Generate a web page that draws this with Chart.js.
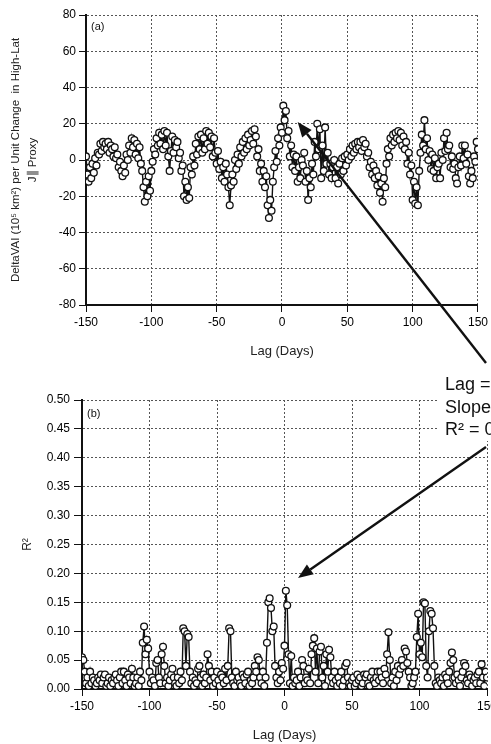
<!DOCTYPE html>
<html>
<head>
<meta charset="utf-8">
<script src="https://cdn.jsdelivr.net/npm/chart.js@4.4.1/dist/chart.umd.min.js"></script>
<style>
  html, body { margin: 0; padding: 0; background: #fff; width: 491px; height: 744px; overflow: hidden; position: relative; }
  #chartA { position: absolute; left: 0; top: 0; }
  #chartB { position: absolute; left: 0; top: 365px; }
</style>
</head>
<body>
<canvas id="chartA" width="491" height="365"></canvas>
<canvas id="chartB" width="505" height="379"></canvas>
<script>
// Lag runs from -150 to +150 days, one value per day
const LAG_START = -150;

// (a) DeltaVAI per unit change in high-lat J proxy
const deltaVAI = [
    2, -8, -12, -4, -10, -2, -7, 1, -3, 4,
    3, 9, 5, 10, 7, 9, 6, 10, 4, 8,
    6, 2, 7, 1, 3, -4, -1, -6, -9, -3,
    -7, 3, 0, 8, 4, 12, 7, 11, 3, 9,
    1, 7, -2, -6, -15, -23, -12, -20, -9, -17,
    -6, -1, 6, 3, 12, 8, 15, 9, 14, 6,
    16, 8, 15, 2, -6, 5, 13, 4, 11, 7,
    10, 1, 4, -6, -3, -20, -12, -22, -15, -21,
    -4, -8, 2, -3, 9, 3, 13, 6, 14, 4,
    12, 6, 16, 9, 15, 7, 13, 2, 12, 4,
    -2, 5, -5, -1, -10, -4, -12, -2, -8, -15,
    -25, -14, -8, -12, 0, -5, 3, -2, 7, 2,
    10, 4, 12, 6, 14, 8, 11, 16, 9, 17,
    13, 2, 6, -6, -2, -12, -6, -15, -9, -25,
    -32, -22, -28, -12, -4, 5, -1, 12, 8, 18,
    15, 30, 22, 27, 12, 16, 2, 8, -4, 3,
    -6, 2, -12, -4, -10, 0, -3, 4, -12, -6,
    -22, -10, -15, -2, -8, 10, 2, 20, 6, 17,
    -10, 8, -6, 18, -2, 4, -8, -2, -10, -4,
    0, -10, -4, -13, -2, -8, 1, -6, 2, -3,
    3, 0, 6, 2, 8, 4, 9, 6, 10, 7,
    10, 5, 11, 7, 9, 2, 4, -4, -1, -8,
    -3, -10, -6, -14, -9, -18, -13, -23, -10, -15,
    -2, 6, 2, 12, 8, 14, 10, 15, 12, 16,
    11, 15, 8, 13, 6, 10, -2, 4, -8, -3,
    -22, -12, -24, -15, -25, -6, 4, 14, 8, 22,
    6, 12, 0, 5, -5, 3, -6, 1, -10, -4,
    -2, -10, 4, 0, 12, 5, 15, 6, 8, -4,
    2, -5, -2, -10, -13, -4, 2, -3, 8, 1,
    8, -2, 3, -9, -13, -6, -10, 2, -1, 10,
    6
];

// (b) R^2 of the fit at each lag
const rSquared = [
    .055, .05, .03, .01, .02, .005, .03, .01, .02, .015,
    .005, .01, .02, .015, .025, .01, .02, .025, .005, .01,
    .02, .005, .015, .01, .02, .025, .015, .005, .02, .03,
    .01, .03, .015, .005, .025, .02, .01, .035, .02, .005,
    .01, .02, .005, .03, .015, .08, .108, .06, .085, .07,
    .03, .01, .02, .015, .005, .045, .05, .02, .01, .06,
    .073, .04, .01, .02, .005, .015, .025, .035, .02, .01,
    .005, .02, .01, .03, .015, .105, .1, .04, .095, .09,
    .03, .01, .02, .005, .015, .01, .035, .04, .02, .005,
    .025, .01, .02, .06, .04, .015, .03, .005, .02, .01,
    .03, .015, .005, .025, .02, .01, .035, .015, .04, .105,
    .1, .02, .01, .005, .03, .015, .02, .01, .005, .025,
    .02, .01, .025, .03, .005, .015, .01, .02, .04, .03,
    .055, .05, .02, .01, .03, .005, .02, .08, .15, .157,
    .14, .1, .108, .04, .02, .01, .03, .015, .045, .035,
    .075, .17, .145, .06, .01, .057, .005, .02, .01, .015,
    .03, .005, .02, .05, .04, .01, .02, .015, .035, .01,
    .06, .075, .088, .03, .07, .01, .065, .073, .02, .04,
    .005, .06, .03, .068, .055, .02, .01, .03, .015, .005,
    .02, .01, .03, .005, .015, .04, .045, .02, .01, .005,
    .015, .02, .005, .01, .025, .015, .02, .005, .01, .025,
    .02, .025, .01, .005, .02, .03, .015, .01, .02, .03,
    .015, .03, .02, .01, .035, .025, .06, .098, .05, .01,
    .02, .005, .03, .015, .04, .025, .035, .05, .04, .07,
    .065, .045, .03, .02, .005, .01, .02, .03, .09, .13,
    .06, .08, .055, .15, .148, .04, .02, .1, .135, .13,
    .105, .04, .01, .005, .02, .015, .01, .02, .005, .025,
    .02, .01, .03, .045, .063, .05, .02, .01, .025, .015,
    .005, .02, .03, .045, .04, .015, .01, .025, .02, .005,
    .015, .02, .01, .025, .03, .01, .043, .02, .005, .03,
    .02
];

const FONT = "'Liberation Sans', Arial, sans-serif";
const INK = '#111';

Chart.defaults.font.family = FONT;
Chart.defaults.color = INK;

function toPoints(values) {
    return values.map((v, i) => ({ x: LAG_START + i, y: v }));
}

function seriesDataset(values) {
    return {
        data: toPoints(values),
        borderColor: INK,
        borderWidth: 1.4,
        pointRadius: 3.4,
        pointBorderWidth: 1.3,
        pointBorderColor: INK,
        pointBackgroundColor: '#fff',
        tension: 0
    };
}

// arrow drawn from a fixed pixel tail to a point given in data units
function arrowPlugin(id, tail, head) {
    return {
        id: id,
        afterDatasetsDraw(chart) {
            const { ctx, scales: { x, y } } = chart;
            const hx = x.getPixelForValue(head[0]);
            const hy = y.getPixelForValue(head[1]);
            const ang = Math.atan2(hy - tail[1], hx - tail[0]);
            const len = 15, half = 6;
            const bx = hx - len * Math.cos(ang), by = hy - len * Math.sin(ang);
            ctx.save();
            ctx.strokeStyle = INK;
            ctx.fillStyle = INK;
            ctx.lineWidth = 2.4;
            ctx.beginPath();
            ctx.moveTo(tail[0], tail[1]);
            ctx.lineTo(bx, by);
            ctx.stroke();
            ctx.beginPath();
            ctx.moveTo(hx, hy);
            ctx.lineTo(bx + half * Math.sin(ang), by - half * Math.cos(ang));
            ctx.lineTo(bx - half * Math.sin(ang), by + half * Math.cos(ang));
            ctx.closePath();
            ctx.fill();
            ctx.restore();
        }
    };
}

function panelLabel(id, text, dy) {
    return {
        id: id,
        afterDraw(chart) {
            const { ctx, chartArea } = chart;
            ctx.save();
            ctx.font = '11px ' + FONT;
            ctx.fillStyle = INK;
            ctx.textBaseline = 'alphabetic';
            ctx.fillText(text, chartArea.left + 5, chartArea.top + dy);
            ctx.restore();
        }
    };
}

function axisX(height, titlePad) {
    return {
        type: 'linear',
        min: -150,
        max: 150,
        ticks: { stepSize: 50, padding: 3, font: { size: 12 }, color: '#000' },
        grid: { color: '#555', lineWidth: 1, tickLength: 7, tickColor: INK },
        border: { color: INK, width: 2, dash: [2, 2] },
        title: {
            display: true,
            text: 'Lag (Days)',
            font: { size: 13 },
            color: '#222',
            padding: { top: 0, bottom: titlePad }
        },
        afterFit(scale) { scale.height = height; }
    };
}

// ---------- (a) ----------
new Chart(document.getElementById('chartA'), {
    type: 'line',
    data: { datasets: [seriesDataset(deltaVAI)] },
    options: {
        responsive: false,
        animation: false,
        layout: { padding: { top: 15, right: 13, left: 0, bottom: 0 } },
        plugins: { legend: { display: false }, tooltip: { enabled: false } },
        scales: {
            x: axisX(60, 6),
            y: {
                min: -80,
                max: 80,
                ticks: { stepSize: 20, padding: 3, font: { size: 12 }, color: '#000' },
                grid: { color: '#555', lineWidth: 1, tickLength: 7, tickColor: INK },
                border: { color: INK, width: 2, dash: [2, 2] },
                title: {
                    display: true,
                    text: ['DeltaVAI (10\u2075 km\u00b2) per Unit Change  in High-Lat', 'J\u2225 Proxy'],
                    font: { size: 11.5, lineHeight: 1.5 },
                    color: '#222',
                    padding: { top: 7, bottom: 0 }
                },
                afterFit(scale) { scale.width = 86; }
            }
        }
    },
    plugins: [panelLabel('labelA', '(a)', 15), arrowPlugin('arrowA', [486, 363], [12, 21])]
});

// ---------- (b) ----------
const noteBox = {
    id: 'noteBox',
    afterDraw(chart) {
        const ctx = chart.ctx;
        ctx.save();
        ctx.fillStyle = '#fff';
        ctx.fillRect(438, 6, 80, 70);
        ctx.fillStyle = INK;
        ctx.font = '18px ' + FONT;
        ctx.textBaseline = 'alphabetic';
        ctx.fillText('Lag = 0', 445, 25);
        ctx.fillText('Slope', 445, 48);
        ctx.fillText('R\u00b2 = 0.17', 445, 70);
        ctx.restore();
    }
};

new Chart(document.getElementById('chartB'), {
    type: 'line',
    data: { datasets: [seriesDataset(rSquared)] },
    options: {
        responsive: false,
        animation: false,
        layout: { padding: { top: 35, right: 18, left: 0, bottom: 0 } },
        plugins: { legend: { display: false }, tooltip: { enabled: false } },
        scales: {
            x: axisX(55, 1),
            y: {
                min: 0,
                max: 0.5,
                ticks: {
                    stepSize: 0.05,
                    padding: 4,
                    font: { size: 12 },
                    color: '#000',
                    callback: v => v.toFixed(2)
                },
                grid: { color: '#555', lineWidth: 1, tickLength: 8, tickColor: INK },
                border: { color: INK, width: 2, dash: [2, 2] },
                title: {
                    display: true,
                    text: 'R\u00b2',
                    font: { size: 12 },
                    color: '#222',
                    padding: { top: 20, bottom: 0 }
                },
                afterFit(scale) { scale.width = 82; }
            }
        }
    },
    plugins: [panelLabel('labelB', '(b)', 17), arrowPlugin('arrowB', [486, 82], [10, 0.192]), noteBox]
});
</script>
</body>
</html>
